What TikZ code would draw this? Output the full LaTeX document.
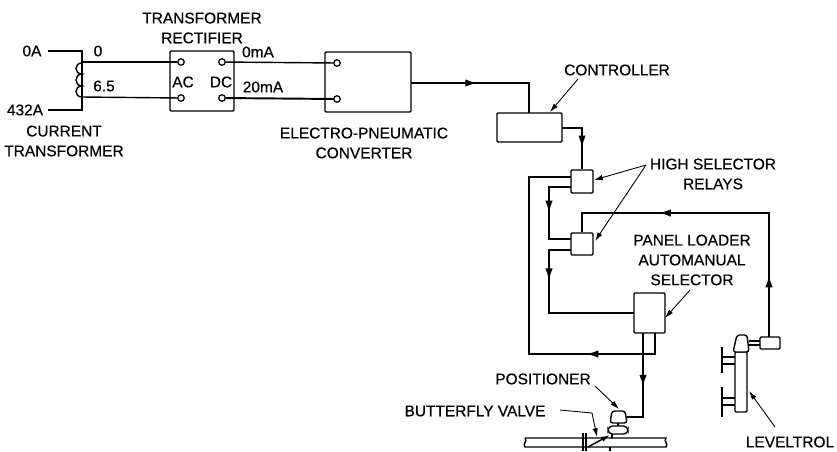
\documentclass[tikz,border=0pt]{standalone}
\usepackage{fontspec}
\setmainfont{Liberation Sans}
\usetikzlibrary{arrows.meta,decorations.markings}
\tikzset{
  box/.style={draw,line width=0.8pt,rounded corners=0.6pt,inner sep=0pt},
  lbl/.style={align=center,inner sep=0pt,font=\fontsize{8.8}{11.3}\selectfont\addfontfeature{FakeBold=0.5}},
  term/.style={circle,draw,fill=white,line width=0.7pt,inner sep=0pt,minimum size=0.13cm},
  wire/.style={line width=0.8pt},
  flow/.style={line width=1.1pt},
  leader/.style={line width=0.5pt,-{Latex[length=5pt,width=3pt]}},
  midarrow/.style={postaction={decorate},decoration={markings,mark=at position #1 with {\arrow{Latex[length=7pt,width=4.2pt]}}}}
}
\begin{document}
\begin{tikzpicture}[x=0.02cm,y=-0.02cm]
\useasboundingbox (0,0) rectangle (837,451);
% boxes
\node[box,minimum width=1.28cm,minimum height=1.2cm] (rect) at (202,81) {};
\node[box,minimum width=1.72cm,minimum height=1.2cm] (conv) at (368,82) {};
\node[box,minimum width=1.3cm,minimum height=0.58cm] (ctrl) at (529.5,127.5) {};
\node[box,minimum width=0.44cm,minimum height=0.46cm] (relaya) at (582,181.5) {};
\node[box,minimum width=0.44cm,minimum height=0.44cm] (relayb) at (582,244) {};
\node[box,minimum width=0.62cm,minimum height=0.8cm] (panel) at (649.5,313) {};
\node[box,minimum width=0.4cm,minimum height=0.24cm] (trans) at (770,343) {};
\node[box,minimum width=0.24cm,minimum height=1.2cm] (level) at (741,382) {};
% terminals
\node[term] (acu) at (181,62) {};
\node[term] (acl) at (181,98) {};
\node[term] (dcu) at (222,62) {};
\node[term] (dcl) at (222,98) {};
\node[term] (epu) at (337,63) {};
\node[term] (epl) at (337,99) {};
% free ends and bends
\coordinate (oa) at (48,51);
\coordinate (oab) at (82,51);
\coordinate (hi) at (48,110);
\coordinate (hib) at (82,110);
\coordinate (secu) at (82,62);
\coordinate (secl) at (82,97);
\coordinate (convout) at (411,83);
\coordinate (ctrlin) at (529,113);
\coordinate (ctrlout) at (562,128);
\coordinate (relayaa) at (571,177);
\coordinate (relayab) at (571,187);
\coordinate (relayba) at (571,239);
\coordinate (relaybb) at (571,250);
\coordinate (panelin) at (634,313);
\coordinate (panelba) at (643,333);
\coordinate (panelbb) at (655,333);
\coordinate (join) at (643,354);
\coordinate (posin) at (627,417);
\coordinate (transtop) at (769,337);
% current transformer
\draw[wire] (oa) -- (oab) -- (hib) -- (hi);
\draw[wire] (82,63) .. controls (74,63) and (74,74) .. (82,74)
  .. controls (74,74) and (74,86) .. (82,86)
  .. controls (74,86) and (74,97) .. (82,97);
\draw[wire] (secu) -- (acu);
\draw[wire] (secl) -- (acl);
\draw[wire] (dcu) -- (epu);
\draw[flow] (dcl) -- (epl);
% signal lines
\draw[flow,midarrow=0.45] (convout) -- (529,83) -- (ctrlin);
\draw[flow,midarrow=0.65] (ctrlout) -- (582,128) -- (relaya.north);
\draw[flow] (relayaa) -- (529,177) -- (529,354) -- (join);
\draw[flow,midarrow=0.5] (relayab) -- (549,187) -- (549,239) -- (relayba);
\draw[flow,midarrow=0.31] (relaybb) -- (549,250) -- (549,313) -- (panelin);
\draw[flow,midarrow=0.71] (transtop) -- (769,213) -- (582,213) -- (relayb.north);
\draw[flow,midarrow=0.5] (transtop) -- (769,213);
\draw[flow,midarrow=0.5] (join) -- (529,354);
\draw[wire] (panelbb) -- (655,354) -- (join);
\draw[flow] (panelba) -- (join);
\draw[flow,midarrow=0.42] (join) -- (643,417) -- (posin);
% positioner and valve
\draw[wire,fill=white,rounded corners=1.5pt] (612,411) -- (625,411) -- (627,423) -- (610,423) -- cycle;
\draw[wire] (618,423) -- (618,426);
\draw[wire,fill=white,rounded corners=2.5pt] (608,426) rectangle (628,434);
\draw[wire] (612,434) -- (612,438);
\draw[wire] (525,438) -- (666,438) .. controls (663,441) and (669,444) .. (666,447) -- (525,447) .. controls (522,444) and (528,441) .. (525,438);
\draw[wire] (583,433) -- (583,451);
\draw[wire] (586,433) -- (586,451);
\draw[wire] (610,447) -- (610,451);
% leveltrol
\draw[wire,fill=white,rounded corners=1.5pt] (737,335) -- (747,335) -- (749,352) -- (733,352) -- cycle;
\draw[wire] (749,341) -- (760,341);
\draw[wire] (749,345) -- (760,345);
\draw[wire] (722,347) -- (722,373);
\draw[wire] (722,387) -- (722,417);
\draw[wire] (722,357) -- (735,357);
\draw[wire] (722,364) -- (735,364);
\draw[wire] (722,398) -- (735,398);
\draw[wire] (722,405) -- (735,405);
% labels
\node[lbl] (loa) at (32,51) {0A};
\node[lbl] (lhi) at (25,110) {432A};
\node[lbl] (lsa) at (98,51) {0};
\node[lbl] (lsb) at (104,86) {6.5};
\node[lbl] (lct) at (64,141) {CURRENT\\TRANSFORMER};
\node[lbl] (ltr) at (202,28) {TRANSFORMER\\RECTIFIER};
\node[lbl] (lac) at (183,82) {AC};
\node[lbl] (ldc) at (221,82) {DC};
\node[lbl] (lma) at (258,52) {0mA};
\node[lbl] (lmb) at (263,87) {20mA};
\node[lbl] (lep) at (364,143) {ELECTRO-PNEUMATIC\\CONVERTER};
\node[lbl] (lctrl) at (617,70) {CONTROLLER};
\node[lbl] (lhs) at (713,174) {HIGH SELECTOR\\RELAYS};
\node[lbl] (lpl) at (692,260) {PANEL LOADER\\AUTOMANUAL\\SELECTOR};
\node[lbl] (lpos) at (543,379) {POSITIONER};
\node[lbl] (lbv) at (475,411) {BUTTERFLY VALVE};
\node[lbl] (llev) at (790,442) {LEVELTROL};
% leaders
\coordinate (hsfoot) at (646,165);
\draw[leader] (578,79) -- (550,112);
\draw[leader] (hsfoot) -- (594,180);
\draw[leader] (hsfoot) -- (595,241);
\draw[leader] (690,290) -- (665,318);
\draw[leader] (595,386) -- (619,409);
\draw[leader] (560,410) -- (592,413) -- (597,437);
\draw[leader] (775,427) -- (749,391);
\draw[leader,line width=0.8pt] (588,447) -- (610,435);
\end{tikzpicture}
\end{document}
